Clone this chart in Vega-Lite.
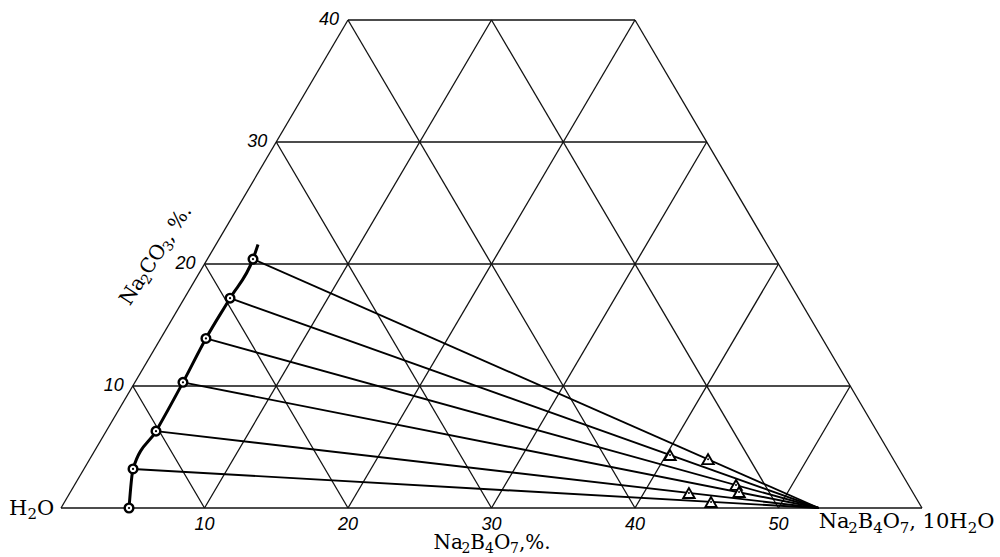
{
  "$schema": "https://vega.github.io/schema/vega-lite/v6.json",
  "width": 1000,
  "height": 557,
  "autosize": "none",
  "padding": 0,
  "background": "white",
  "config": {"view": {"stroke": null}, "text": {"font": "DejaVu Serif", "color": "#000", "align": "left", "baseline": "alphabetic"}},
  "datasets": {
    "grid": [
      {"x": 0, "c": 0, "x2": 60, "c2": 0},
      {"x": 5, "c": 10, "x2": 55, "c2": 10},
      {"x": 10, "c": 20, "x2": 50, "c2": 20},
      {"x": 15, "c": 30, "x2": 45, "c2": 30},
      {"x": 20, "c": 40, "x2": 40, "c2": 40},
      {"x": 0, "c": 0, "x2": 20, "c2": 40},
      {"x": 10, "c": 0, "x2": 30, "c2": 40},
      {"x": 20, "c": 0, "x2": 40, "c2": 40},
      {"x": 30, "c": 0, "x2": 45, "c2": 30},
      {"x": 40, "c": 0, "x2": 50, "c2": 20},
      {"x": 50, "c": 0, "x2": 55, "c2": 10},
      {"x": 10, "c": 0, "x2": 5, "c2": 10},
      {"x": 20, "c": 0, "x2": 10, "c2": 20},
      {"x": 30, "c": 0, "x2": 15, "c2": 30},
      {"x": 40, "c": 0, "x2": 20, "c2": 40},
      {"x": 50, "c": 0, "x2": 30, "c2": 40},
      {"x": 60, "c": 0, "x2": 40, "c2": 40}
    ],
    "ties": [
      {"x": 5.02, "c": 3.2, "x2": 52.8, "c2": 0},
      {"x": 6.62, "c": 6.3, "x2": 52.8, "c2": 0},
      {"x": 8.5, "c": 10.3, "x2": 52.8, "c2": 0},
      {"x": 10.1, "c": 13.9, "x2": 52.8, "c2": 0},
      {"x": 11.78, "c": 17.2, "x2": 52.8, "c2": 0},
      {"x": 13.38, "c": 20.4, "x2": 52.8, "c2": 0}
    ],
    "curve": [
      {"x": 4.74, "c": 0},
      {"x": 5.02, "c": 3.2},
      {"x": 6.62, "c": 6.3},
      {"x": 8.5, "c": 10.3},
      {"x": 10.1, "c": 13.9},
      {"x": 11.78, "c": 17.2},
      {"x": 13.38, "c": 20.4},
      {"x": 13.73, "c": 21.6}
    ],
    "solution": [
      {"x": 4.74, "c": 0},
      {"x": 5.02, "c": 3.2},
      {"x": 6.62, "c": 6.3},
      {"x": 8.5, "c": 10.3},
      {"x": 10.1, "c": 13.9},
      {"x": 11.78, "c": 17.2},
      {"x": 13.38, "c": 20.4}
    ],
    "residue": [
      {"x": 42.44, "c": 4.34},
      {"x": 45.09, "c": 4.0},
      {"x": 47.04, "c": 1.89},
      {"x": 43.76, "c": 1.23},
      {"x": 47.25, "c": 1.31},
      {"x": 45.3, "c": 0.49}
    ],
    "bottomTicks": [
      {"x": 10, "c": 0, "label": "10"},
      {"x": 20, "c": 0, "label": "20"},
      {"x": 30, "c": 0, "label": "30"},
      {"x": 40, "c": 0, "label": "40"},
      {"x": 50, "c": 0, "label": "50"}
    ],
    "leftTicks": [
      {"x": 5, "c": 10, "label": "10"},
      {"x": 10, "c": 20, "label": "20"},
      {"x": 15, "c": 30, "label": "30"},
      {"x": 20, "c": 40, "label": "40"}
    ],
    "parts": [
      {"id": "w1", "x": 0, "c": 0, "text": "H"},
      {"id": "w2", "x": 0, "c": 0, "text": "2"},
      {"id": "w3", "x": 0, "c": 0, "text": "O"},
      {"id": "h1", "x": 52.8, "c": 0, "text": "Na"},
      {"id": "h2", "x": 52.8, "c": 0, "text": "2"},
      {"id": "h3", "x": 52.8, "c": 0, "text": "B"},
      {"id": "h4", "x": 52.8, "c": 0, "text": "4"},
      {"id": "h5", "x": 52.8, "c": 0, "text": "O"},
      {"id": "h6", "x": 52.8, "c": 0, "text": "7"},
      {"id": "h7", "x": 52.8, "c": 0, "text": ", 10H"},
      {"id": "h8", "x": 52.8, "c": 0, "text": "2"},
      {"id": "h9", "x": 52.8, "c": 0, "text": "O"},
      {"id": "b1", "x": 30, "c": 0, "text": "Na"},
      {"id": "b2", "x": 30, "c": 0, "text": "2"},
      {"id": "b3", "x": 30, "c": 0, "text": "B"},
      {"id": "b4", "x": 30, "c": 0, "text": "4"},
      {"id": "b5", "x": 30, "c": 0, "text": "O"},
      {"id": "b6", "x": 30, "c": 0, "text": "7"},
      {"id": "b7", "x": 30, "c": 0, "text": ",%."},
      {"id": "y1", "x": 6.55, "c": 20.74, "text": "Na"},
      {"id": "y2", "x": 6.55, "c": 20.74, "text": "2"},
      {"id": "y3", "x": 6.55, "c": 20.74, "text": "CO"},
      {"id": "y4", "x": 6.55, "c": 20.74, "text": "3"},
      {"id": "y5", "x": 6.55, "c": 20.74, "text": ", %."}
    ]
  },
  "encoding": {
    "x": {"field": "x", "type": "quantitative", "scale": {"domain": [-4.251, 65.436], "nice": false, "zero": false}, "axis": null},
    "y": {"field": "c", "type": "quantitative", "scale": {"domain": [-4.016, 41.639], "nice": false, "zero": false}, "axis": null}
  },
  "layer": [
    {"data": {"name": "grid"}, "mark": {"type": "rule", "color": "#111", "strokeWidth": 1.3}, "encoding": {"x2": {"field": "x2"}, "y2": {"field": "c2"}}},
    {"data": {"name": "ties"}, "mark": {"type": "rule", "color": "#000", "strokeWidth": 1.9}, "encoding": {"x2": {"field": "x2"}, "y2": {"field": "c2"}}},
    {"data": {"name": "curve"}, "mark": {"type": "line", "color": "#000", "strokeWidth": 3, "interpolate": "monotone"}, "encoding": {}},
    {"data": {"name": "solution"}, "mark": {"type": "point", "shape": "circle", "filled": true, "fill": "white", "stroke": "#000", "strokeWidth": 2.4, "size": 75, "opacity": 1}, "encoding": {}},
    {"data": {"name": "solution"}, "mark": {"type": "point", "shape": "circle", "filled": true, "color": "#000", "size": 5, "opacity": 1}, "encoding": {}},
    {"data": {"name": "residue"}, "mark": {"type": "point", "shape": "triangle-up", "filled": true, "fill": "white", "stroke": "#000", "strokeWidth": 1.9, "size": 130, "opacity": 1}, "encoding": {}},
    {"data": {"name": "residue"}, "mark": {"type": "point", "shape": "circle", "filled": true, "color": "#000", "size": 4, "opacity": 1}, "encoding": {}},
    {"data": {"name": "bottomTicks"}, "mark": {"type": "text", "font": "Liberation Sans", "fontStyle": "italic", "fontSize": 18, "align": "center", "baseline": "middle", "dy": 17}, "encoding": {"text": {"field": "label"}}},
    {"data": {"name": "leftTicks"}, "mark": {"type": "text", "font": "Liberation Sans", "fontStyle": "italic", "fontSize": 18, "align": "right", "baseline": "middle", "dx": -9}, "encoding": {"text": {"field": "label"}}},

    {"data": {"name": "parts"}, "transform": [{"filter": "datum.id === 'w1'"}], "mark": {"type": "text", "fontSize": 21, "dx": -52, "dy": 7}, "encoding": {"text": {"field": "text"}}},
    {"data": {"name": "parts"}, "transform": [{"filter": "datum.id === 'w2'"}], "mark": {"type": "text", "fontSize": 15, "dx": -33.5, "dy": 11}, "encoding": {"text": {"field": "text"}}},
    {"data": {"name": "parts"}, "transform": [{"filter": "datum.id === 'w3'"}], "mark": {"type": "text", "fontSize": 21, "dx": -24, "dy": 7}, "encoding": {"text": {"field": "text"}}},

    {"data": {"name": "parts"}, "transform": [{"filter": "datum.id === 'h1'"}], "mark": {"type": "text", "fontSize": 21, "dx": 0, "dy": 20}, "encoding": {"text": {"field": "text"}}},
    {"data": {"name": "parts"}, "transform": [{"filter": "datum.id === 'h2'"}], "mark": {"type": "text", "fontSize": 15, "dx": 29.5, "dy": 25}, "encoding": {"text": {"field": "text"}}},
    {"data": {"name": "parts"}, "transform": [{"filter": "datum.id === 'h3'"}], "mark": {"type": "text", "fontSize": 21, "dx": 39, "dy": 20}, "encoding": {"text": {"field": "text"}}},
    {"data": {"name": "parts"}, "transform": [{"filter": "datum.id === 'h4'"}], "mark": {"type": "text", "fontSize": 15, "dx": 54.5, "dy": 25}, "encoding": {"text": {"field": "text"}}},
    {"data": {"name": "parts"}, "transform": [{"filter": "datum.id === 'h5'"}], "mark": {"type": "text", "fontSize": 21, "dx": 64, "dy": 20}, "encoding": {"text": {"field": "text"}}},
    {"data": {"name": "parts"}, "transform": [{"filter": "datum.id === 'h6'"}], "mark": {"type": "text", "fontSize": 15, "dx": 81, "dy": 25}, "encoding": {"text": {"field": "text"}}},
    {"data": {"name": "parts"}, "transform": [{"filter": "datum.id === 'h7'"}], "mark": {"type": "text", "fontSize": 21, "dx": 90.5, "dy": 20}, "encoding": {"text": {"field": "text"}}},
    {"data": {"name": "parts"}, "transform": [{"filter": "datum.id === 'h8'"}], "mark": {"type": "text", "fontSize": 15, "dx": 149, "dy": 25}, "encoding": {"text": {"field": "text"}}},
    {"data": {"name": "parts"}, "transform": [{"filter": "datum.id === 'h9'"}], "mark": {"type": "text", "fontSize": 21, "dx": 158.5, "dy": 20}, "encoding": {"text": {"field": "text"}}},

    {"data": {"name": "parts"}, "transform": [{"filter": "datum.id === 'b1'"}], "mark": {"type": "text", "fontSize": 20, "dx": -58, "dy": 41}, "encoding": {"text": {"field": "text"}}},
    {"data": {"name": "parts"}, "transform": [{"filter": "datum.id === 'b2'"}], "mark": {"type": "text", "fontSize": 14, "dx": -30.1, "dy": 44.5}, "encoding": {"text": {"field": "text"}}},
    {"data": {"name": "parts"}, "transform": [{"filter": "datum.id === 'b3'"}], "mark": {"type": "text", "fontSize": 20, "dx": -21.2, "dy": 41}, "encoding": {"text": {"field": "text"}}},
    {"data": {"name": "parts"}, "transform": [{"filter": "datum.id === 'b4'"}], "mark": {"type": "text", "fontSize": 14, "dx": -6.5, "dy": 44.5}, "encoding": {"text": {"field": "text"}}},
    {"data": {"name": "parts"}, "transform": [{"filter": "datum.id === 'b5'"}], "mark": {"type": "text", "fontSize": 20, "dx": 2.4, "dy": 41}, "encoding": {"text": {"field": "text"}}},
    {"data": {"name": "parts"}, "transform": [{"filter": "datum.id === 'b6'"}], "mark": {"type": "text", "fontSize": 14, "dx": 18.5, "dy": 44.5}, "encoding": {"text": {"field": "text"}}},
    {"data": {"name": "parts"}, "transform": [{"filter": "datum.id === 'b7'"}], "mark": {"type": "text", "fontSize": 20, "dx": 27.4, "dy": 41}, "encoding": {"text": {"field": "text"}}},

    {"data": {"name": "parts"}, "transform": [{"filter": "datum.id === 'y1'"}], "mark": {"type": "text", "fontSize": 20, "angle": -57, "dx": -57, "dy": 7}, "encoding": {"text": {"field": "text"}}},
    {"data": {"name": "parts"}, "transform": [{"filter": "datum.id === 'y2'"}], "mark": {"type": "text", "fontSize": 14, "angle": -57, "dx": -29.1, "dy": 11}, "encoding": {"text": {"field": "text"}}},
    {"data": {"name": "parts"}, "transform": [{"filter": "datum.id === 'y3'"}], "mark": {"type": "text", "fontSize": 20, "angle": -57, "dx": -20.2, "dy": 7}, "encoding": {"text": {"field": "text"}}},
    {"data": {"name": "parts"}, "transform": [{"filter": "datum.id === 'y4'"}], "mark": {"type": "text", "fontSize": 14, "angle": -57, "dx": 10.5, "dy": 11}, "encoding": {"text": {"field": "text"}}},
    {"data": {"name": "parts"}, "transform": [{"filter": "datum.id === 'y5'"}], "mark": {"type": "text", "fontSize": 20, "angle": -57, "dx": 19.4, "dy": 7}, "encoding": {"text": {"field": "text"}}}
  ]
}
